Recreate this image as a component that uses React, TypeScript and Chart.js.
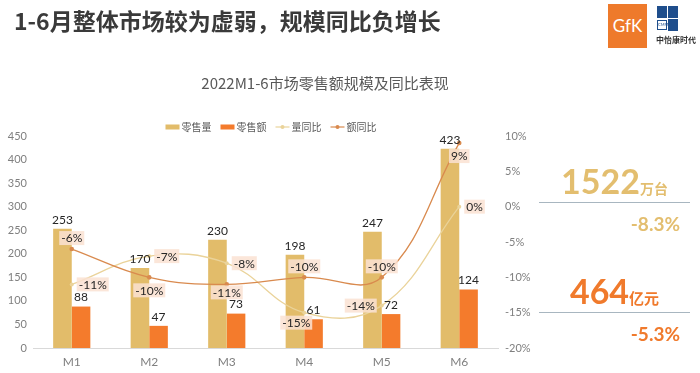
import React, { useEffect, useRef } from 'react';
import { Chart, registerables } from 'chart.js';

Chart.register(...registerables);

// ---- data ----
const months = ['M1', 'M2', 'M3', 'M4', 'M5', 'M6'];
const retailVolume = [253, 170, 230, 198, 247, 423]; // 零售量 (万台)
const retailValue = [88, 47, 73, 61, 72, 124]; // 零售额 (亿元)
const volumeYoY = [-11, -7, -8, -15, -14, 0]; // 量同比 %
const valueYoY = [-6, -10, -11, -10, -10, 9]; // 额同比 %
const seriesNames = ['零售量', '零售额', '量同比', '额同比'];
const leftAxis = { min: 0, max: 450, step: 50 };
const rightAxis = { min: -20, max: 10, step: 5 };

// label placements (style, not data)
const volumeYoYLabelPos = ['right', 'right', 'right', 'bottomLeft', 'left', 'right'];
const valueYoYLabelPos = ['top', 'bottom', 'bottomTight', 'top', 'top', 'bottom'];

const C_VOL = '#E2BC6A';
const C_VAL = '#F47B2C';
const C_VOLYOY = '#EAD39A';
const C_VALYOY = '#D98A4E';
const LATO = 'Lato, "Noto Sans", sans-serif';
const CJK = '"Noto Sans CJK SC", "Noto Sans", sans-serif';

const labelPlugin = {
  id: 'valueLabels',
  afterDatasetsDraw(chart: any) {
    const ctx = chart.ctx;
    ctx.save();
    ctx.font = `12px ${LATO}`;
    ctx.textAlign = 'center';
    ctx.textBaseline = 'middle';
    const bars: Array<[string, number, number]> = [];
    chart.data.datasets.forEach((ds: any, i: number) => {
      const meta = chart.getDatasetMeta(i);
      meta.data.forEach((el: any, j: number) => {
        const v = ds.data[j];
        if (ds.type === 'bar') {
          bars.push([String(v), el.x, el.y - 9]);
        } else {
          const text = `${v}%`;
          const pos = (ds.labelPos as string[])[j];
          const w = ctx.measureText(text).width;
          let x = el.x;
          let y = el.y;
          if (pos === 'right') x += w / 2 + 7;
          else if (pos === 'left') x -= w / 2 + 7;
          else if (pos === 'top') y -= 11;
          else if (pos === 'bottom') y += 13;
          else if (pos === 'bottomTight') y += 8;
          else if (pos === 'bottomLeft') { y += 10; x -= 8; }
          ctx.fillStyle = 'rgba(250,226,210,0.85)';
          ctx.fillRect(x - w / 2 - 2, y - 7, w + 4, 14);
          ctx.fillStyle = '#262626';
          ctx.fillText(text, x, y + 0.5);
        }
      });
    });
    ctx.fillStyle = '#262626';
    bars.forEach(([t, x, y]) => ctx.fillText(t, x, y));
    ctx.restore();
  },
};

const legendPlugin = {
  id: 'customLegend',
  afterDraw(chart: any) {
    const ctx = chart.ctx;
    ctx.save();
    ctx.font = `10px ${CJK}`;
    ctx.textBaseline = 'middle';
    ctx.textAlign = 'left';
    const marker = 14;
    const gap = 2;
    const itemGap = 9;
    const ds = chart.data.datasets;
    const widths = ds.map((d: any) => marker + gap + ctx.measureText(d.label).width);
    const total = widths.reduce((a: number, b: number) => a + b, 0) + itemGap * (ds.length - 1);
    let x = 271 - total / 2;
    const y = chart.chartArea.top - 9;
    ds.forEach((d: any, i: number) => {
      if (d.type === 'bar') {
        ctx.fillStyle = d.backgroundColor;
        ctx.fillRect(x, y - 2.5, marker, 5);
      } else {
        ctx.strokeStyle = d.borderColor;
        ctx.lineWidth = 1.2;
        ctx.beginPath();
        ctx.moveTo(x, y);
        ctx.lineTo(x + marker, y);
        ctx.stroke();
        ctx.fillStyle = d.borderColor;
        ctx.beginPath();
        ctx.arc(x + marker / 2, y, 2, 0, Math.PI * 2);
        ctx.fill();
      }
      ctx.fillStyle = '#595959';
      ctx.fillText(d.label, x + marker + gap, y);
      x += widths[i] + itemGap;
    });
    ctx.restore();
  },
};

function ChartCanvas() {
  const ref = useRef<HTMLCanvasElement | null>(null);
  useEffect(() => {
    if (!ref.current) return;
    const chart = new Chart(ref.current, {
      type: 'bar',
      data: {
        labels: months,
        datasets: [
          {
            type: 'bar',
            label: seriesNames[0],
            data: retailVolume,
            backgroundColor: C_VOL,
            yAxisID: 'y',
            order: 2,
            categoryPercentage: 0.48,
            barPercentage: 1,
          },
          {
            type: 'bar',
            label: seriesNames[1],
            data: retailValue,
            backgroundColor: C_VAL,
            yAxisID: 'y',
            order: 2,
            categoryPercentage: 0.48,
            barPercentage: 1,
          },
          {
            type: 'line',
            label: seriesNames[2],
            data: volumeYoY,
            borderColor: C_VOLYOY,
            backgroundColor: C_VOLYOY,
            borderWidth: 1.3,
            pointRadius: 2,
            pointBorderWidth: 0,
            tension: 0.4,
            yAxisID: 'y1',
            order: 1,
            labelPos: volumeYoYLabelPos,
          } as any,
          {
            type: 'line',
            label: seriesNames[3],
            data: valueYoY,
            borderColor: C_VALYOY,
            backgroundColor: C_VALYOY,
            borderWidth: 1.3,
            pointRadius: 2.3,
            pointBorderWidth: 0,
            tension: 0.4,
            yAxisID: 'y1',
            order: 0,
            labelPos: valueYoYLabelPos,
          } as any,
        ],
      },
      options: {
        responsive: false,
        animation: false,
        layout: { padding: { top: 136, right: 162, bottom: 0, left: 0 } },
        plugins: { legend: { display: false }, tooltip: { enabled: false }, title: { display: false } },
        scales: {
          x: {
            grid: { display: false, drawTicks: false },
            border: { display: true, color: '#D9D9D9', width: 1 },
            ticks: { color: '#7F7F7F', font: { family: LATO, size: 12 }, padding: 7 },
            afterFit: (s: any) => { s.height = 25; },
          },
          y: {
            position: 'left',
            min: leftAxis.min,
            max: leftAxis.max,
            grid: { display: false, drawTicks: false },
            border: { display: false },
            ticks: { stepSize: leftAxis.step, color: '#7F7F7F', font: { family: LATO, size: 11 }, padding: 6 },
            afterFit: (s: any) => { s.width = 33; },
          },
          y1: {
            position: 'right',
            min: rightAxis.min,
            max: rightAxis.max,
            grid: { display: false, drawTicks: false },
            border: { display: false },
            ticks: {
              stepSize: rightAxis.step,
              color: '#7F7F7F',
              font: { family: LATO, size: 11 },
              padding: 7,
              callback: (v: any) => `${v}%`,
            },
            afterFit: (s: any) => { s.width = 40; },
          },
        },
      } as any,
      plugins: [labelPlugin, legendPlugin],
    });
    return () => chart.destroy();
  }, []);
  return <canvas ref={ref} width={700} height={373} style={{ position: 'absolute', left: 0, top: 0, width: 700, height: 373 }} />;
}

export default function App() {
  const abs = (o: React.CSSProperties): React.CSSProperties => ({ position: 'absolute', whiteSpace: 'nowrap', ...o });
  return (
    <div style={{ position: 'fixed', left: 0, top: 0, width: 700, height: 373, background: '#fff', overflow: 'hidden', fontFamily: CJK }}>
      <ChartCanvas />
      <div style={abs({ left: 14, top: 9, fontSize: 23, lineHeight: '23px', fontWeight: 700, color: '#3A3A3A' })}>
        1-6月整体市场较为虚弱，规模同比负增长
      </div>
      <div style={abs({ left: 325, top: 75, transform: 'translateX(-50%)', fontSize: 15, lineHeight: '15px', color: '#595959' })}>
        2022M1-6市场零售额规模及同比表现
      </div>
      {/* logos */}
      <div style={abs({ left: 608, top: 4, width: 39, height: 44, background: '#EE7A2B', color: '#fff', fontFamily: LATO, fontSize: 17, lineHeight: '44px', textAlign: 'center' })}>
        GfK
      </div>
      <div style={abs({ left: 657, top: 6, width: 10, height: 12, background: '#1F4E8C' })} />
      <div style={abs({ left: 668, top: 6, width: 10, height: 12, background: '#1F4E8C' })} />
      <div style={abs({ left: 668, top: 19, width: 10, height: 12, background: '#1F4E8C' })} />
      <div style={abs({ left: 657, top: 20, width: 10, height: 10, border: '1px solid #1F4E8C', boxSizing: 'border-box', fontSize: 4, lineHeight: '8px', color: '#1F4E8C', textAlign: 'center', fontFamily: LATO })}>
        CMM
      </div>
      <div style={abs({ left: 656, top: 36, fontSize: 8, lineHeight: '8px', fontWeight: 700, color: '#333' })}>中怡康时代</div>
      {/* summary */}
      <div style={abs({ left: 539, top: 164, width: 151, display: 'flex', justifyContent: 'center', alignItems: 'baseline', color: '#E3BE6F', fontWeight: 700 })}>
        <span style={{ fontFamily: LATO, fontSize: 34, lineHeight: '34px' }}>1522</span>
        <span style={{ fontSize: 14, lineHeight: '14px' }}>万台</span>
      </div>
      <div style={abs({ left: 539, top: 202, width: 151, height: 1, background: '#A8B6C0' })} />
      <div style={abs({ right: 20, top: 214, fontFamily: LATO, fontSize: 19, lineHeight: '19px', fontWeight: 700, color: '#E3BE6F' })}>-8.3%</div>
      <div style={abs({ left: 539, top: 274, width: 151, display: 'flex', justifyContent: 'center', alignItems: 'baseline', color: '#F07A2C', fontWeight: 700 })}>
        <span style={{ fontFamily: LATO, fontSize: 34, lineHeight: '34px' }}>464</span>
        <span style={{ fontSize: 15, lineHeight: '15px' }}>亿元</span>
      </div>
      <div style={abs({ left: 539, top: 312, width: 151, height: 1, background: '#A8B6C0' })} />
      <div style={abs({ right: 20, top: 324, fontFamily: LATO, fontSize: 19, lineHeight: '19px', fontWeight: 700, color: '#F07A2C' })}>-5.3%</div>
    </div>
  );
}
